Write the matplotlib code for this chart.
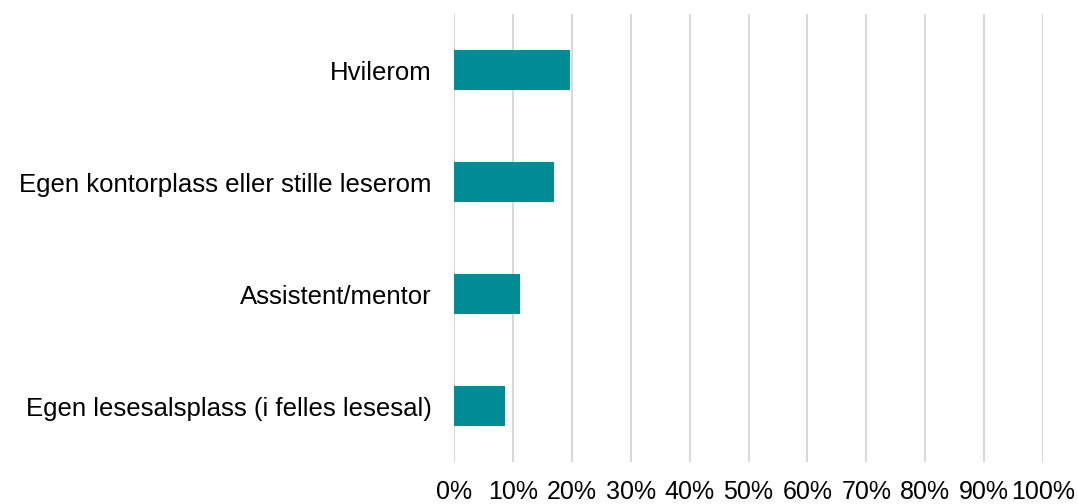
import matplotlib.pyplot as plt
import numpy as np

plt.rcParams['font.family'] = ['Liberation Sans', 'DejaVu Sans']

categories = ["Hvilerom", "Egen kontorplass eller stille leserom",
              "Assistent/mentor", "Egen lesesalsplass (i felles lesesal)"]
values = [19.7, 17.0, 11.2, 8.7]
xticks = list(range(0, 101, 10))
xticklabels = ["{}%".format(t) for t in xticks]

fig = plt.figure(figsize=(10.78, 5.04), dpi=100)
ax = fig.add_axes([0.4212, 0.0833, 0.5463, 0.8889])

y = np.arange(len(categories))
ax.barh(y, values, height=0.35, color="#008C95", zorder=3)

ax.set_xlim(0, 100)
ax.set_ylim(len(categories) - 0.5, -0.5)
ax.set_yticks(y)
ax.set_yticklabels(categories, fontsize=18.5)
ax.set_xticks(xticks)
ax.set_xticklabels(xticklabels, fontsize=18)
ax.tick_params(axis='both', length=0)
ax.tick_params(axis='x', pad=13)
ax.tick_params(axis='y', pad=16)

ax.grid(axis='x', color="#D9D9D9", linewidth=1.5, zorder=0)
for s in ax.spines.values():
    s.set_visible(False)

plt.savefig("out.png", dpi=100)
